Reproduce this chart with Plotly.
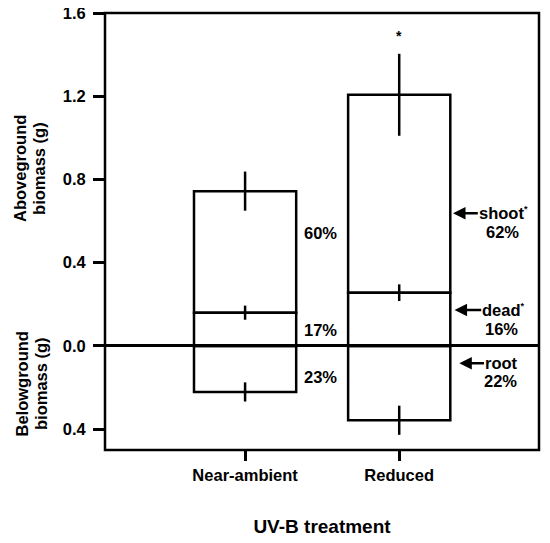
import plotly.graph_objects as go

# ---- data ----
treatments = ["Near-ambient", "Reduced"]
x_pos = [1, 2]
dead = [0.160, 0.256]            # standing dead biomass (g)
dead_err = [0.034, 0.040]
shoot_total = [0.744, 1.207]     # total aboveground (g) = dead + live shoot
shoot_err = [0.094, 0.197]
root = [0.221, 0.357]            # belowground biomass (g)
root_err = [0.046, 0.070]

pct_near = ["60%", "17%", "23%"]
pct_reduced = ["62%", "16%", "22%"]
part_names = ["shoot", "dead", "root"]
part_sig = [True, True, False]

y_tickvals = [-0.4, 0.0, 0.4, 0.8, 1.2, 1.6]
y_ticktext = ["0.4", "0.0", "0.4", "0.8", "1.2", "1.6"]

live_shoot = [t - d for t, d in zip(shoot_total, dead)]
root_neg = [-r for r in root]

FONT = "Liberation Sans, Arial, sans-serif"
LW = 2.5
BW = 0.663

# page has an 8px body margin: figure is sized so the plot sits where the reference has it
W, H = 542, 535
ML, MR, MT, MB = 97, 11, 5, 93
PW = W - ML - MR

def bar(y, err, name):
    return go.Bar(
        x=x_pos, y=y, name=name, width=BW,
        marker=dict(color="rgba(0,0,0,0)", line=dict(color="black", width=LW)),
        error_y=dict(type="data", array=err, visible=True, color="black",
                     thickness=LW, width=0),
        showlegend=False,
    )

fig = go.Figure()
fig.add_trace(bar(dead, dead_err, "dead"))
fig.add_trace(bar(live_shoot, shoot_err, "shoot"))
fig.add_trace(bar(root_neg, root_err, "root"))

fig.update_layout(
    width=W, height=H,
    barmode="relative",
    plot_bgcolor="white", paper_bgcolor="white",
    margin=dict(l=ML, r=MR, t=MT, b=MB, autoexpand=False),
    font=dict(family=FONT, size=16.5, color="black", weight="bold"),
)

fig.update_xaxes(
    range=[0.091, 2.907], tickvals=x_pos, ticktext=treatments,
    showline=False,
    ticks="outside", ticklen=10, tickwidth=LW, tickcolor="black",
    showgrid=False, zeroline=False,
    tickfont=dict(size=16.5, family=FONT, weight="bold"),
    title=dict(text="UV-B treatment", font=dict(size=19, family=FONT, weight="bold"), standoff=36),
    automargin=False,
)
fig.update_yaxes(
    range=[-0.5, 1.6], tickvals=y_tickvals, ticktext=y_ticktext,
    showline=False,
    ticks="outside", ticklen=11, tickwidth=LW, tickcolor="black",
    showgrid=False, zeroline=True, zerolinecolor="black", zerolinewidth=LW,
    tickfont=dict(size=16.5, family=FONT, weight="bold"),
    ticklabelstandoff=4, ticklabeloverflow="allow",
    automargin=False,
)

# plot-area frame (axes box)
fig.add_shape(type="rect", xref="paper", yref="paper", x0=0, x1=1, y0=0, y1=1,
              line=dict(color="black", width=LW), layer="above")

ann = []
# y-axis titles (two stacked, rotated); x given in reference pixels
for txt, xp, yv in [("Aboveground", 20.5, 0.853), ("biomass (g)", 39.5, 0.853),
                    ("Belowground", 22.5, -0.183), ("biomass (g)", 41.0, -0.183)]:
    ann.append(dict(text=txt, xref="paper", x=(xp - 8 - ML) / PW, yref="y", y=yv,
                    textangle=-90, showarrow=False, xanchor="center", yanchor="middle",
                    font=dict(size=16.5, family=FONT, weight="bold")))

# percentages beside Near-ambient bar
for txt, yv in zip(pct_near, [0.542, 0.077, -0.148]):
    ann.append(dict(text=txt, x=1.49, y=yv, showarrow=False,
                    xanchor="center", yanchor="middle"))

# arrows (with their part name as the text at the tail) + percentages beside Reduced bar
arrows = [(2.349, 2.510, 0.638), (2.359, 2.532, 0.173), (2.390, 2.550, -0.083)]
pct_x = [2.669, 2.662, 2.656]
pct_y = [0.550, 0.080, -0.167]
for (hx, tx, yv), nm, sig, pc, px, py in zip(arrows, part_names, part_sig,
                                             pct_reduced, pct_x, pct_y):
    label = nm + ("<sup><span style='font-size:9px'>*</span></sup>" if sig else "")
    ann.append(dict(text=label, x=hx, y=yv, ax=tx, ay=yv, axref="x", ayref="y",
                    xanchor="left", yanchor="middle", borderpad=0,
                    showarrow=True, arrowhead=2, arrowsize=1.0, arrowwidth=2.5,
                    arrowcolor="black", standoff=0, startstandoff=0))
    ann.append(dict(text=pc, x=px, y=py, showarrow=False, xanchor="center", yanchor="middle"))

# significance asterisk above Reduced total
ann.append(dict(text="*", x=x_pos[1], y=shoot_total[1] + shoot_err[1] + 0.085,
                showarrow=False, font=dict(size=14)))

fig.update_layout(annotations=ann)
fig.write_html("out.html")
